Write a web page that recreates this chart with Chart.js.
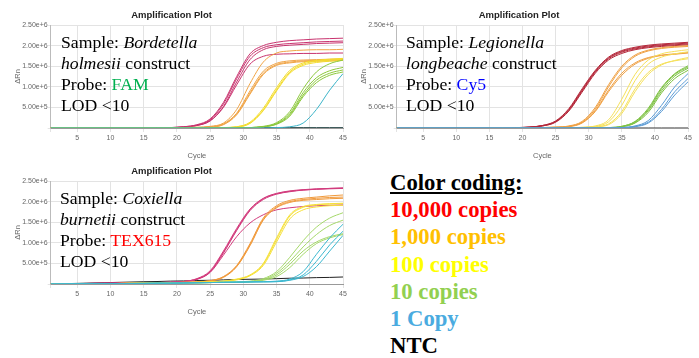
<!DOCTYPE html>
<html lang="en">
<head>
  <meta charset="UTF-8">
  <title>Amplification Plots</title>
  <script src="https://cdn.jsdelivr.net/npm/chart.js"></script>
  <style>
    body { margin: 0; width: 699px; height: 358px; position: relative; background: #fff; overflow: hidden; }
    canvas { position: absolute; }
    .note { position: absolute; font-family: 'Liberation Serif', serif; font-size: 17.7px; line-height: 21px; color: #000; white-space: nowrap; }
    .key { position: absolute; left: 390px; top: 169px; font-family: 'Liberation Serif', serif; font-weight: bold; font-size: 22.7px; line-height: 27.2px; white-space: nowrap; }
  </style>
</head>
<body>
  <canvas id="plotFam" width="350" height="165" style="left:0;top:0"></canvas>
  <canvas id="plotCy5" width="349" height="165" style="left:350px;top:0"></canvas>
  <canvas id="plotTex" width="350" height="165" style="left:0;top:156px"></canvas>

  <div class="note" style="left:61px;top:32px">
    Sample: <i>Bordetella</i><br><i>holmesii</i> construct<br>Probe: <span style="color:#00b050">FAM</span><br>LOD &lt;10
  </div>
  <div class="note" style="left:406px;top:32px">
    Sample: <i>Legionella</i><br><i>longbeache</i> construct<br>Probe: <span style="color:#0000ff">Cy5</span><br>LOD &lt;10
  </div>
  <div class="note" style="left:60px;top:188px">
    Sample: <i>Coxiella</i><br><i>burnetii</i> construct<br>Probe: <span style="color:#ff0000">TEX615</span><br>LOD &lt;10
  </div>

  <div class="key">
    <u>Color coding:</u><br>
    <span style="color:#ff0000">10,000 copies</span><br>
    <span style="color:#ffc000">1,000 copies</span><br>
    <span style="color:#ffff00">100 copies</span><br>
    <span style="color:#92d050">10 copies</span><br>
    <span style="color:#4aabe0">1 Copy</span><br>
    <span style="color:#000">NTC</span>
  </div>

  <script>
    const cycles = [1, 5, 10, 15, 17, 19, 21, 23, 25, 27, 29, 31, 33, 35, 37, 39, 41, 43, 45];
    // all ΔRn values below are in millions

    // Bordetella holmesii / FAM
    const famCopies10000 = [
      [0, 0, 0, 0, 0, 0.01, 0.03, 0.08, 0.22, 0.62, 1.25, 1.8, 2.0, 2.08, 2.12, 2.14, 2.16, 2.17, 2.18],
      [0, 0, 0, 0, 0, 0.01, 0.03, 0.07, 0.2, 0.58, 1.2, 1.74, 1.95, 2.02, 2.05, 2.07, 2.09, 2.1, 2.11],
      [0, 0, 0, 0, 0, 0.01, 0.02, 0.06, 0.18, 0.52, 1.12, 1.66, 1.9, 1.98, 2.01, 2.03, 2.05, 2.06, 2.07],
      [0, 0, 0, 0, 0, 0.01, 0.02, 0.06, 0.17, 0.5, 1.05, 1.55, 1.74, 1.79, 1.8, 1.81, 1.81, 1.82, 1.82]
    ];
    const famCopies1000 = [
      [0, 0, 0, 0, 0, 0, 0.01, 0.02, 0.04, 0.12, 0.45, 1.08, 1.6, 1.82, 1.87, 1.89, 1.9, 1.9, 1.91],
      [0, 0, 0, 0, 0, 0, 0, 0.01, 0.03, 0.1, 0.36, 0.9, 1.38, 1.57, 1.63, 1.65, 1.66, 1.67, 1.68],
      [0, 0, 0, 0, 0, 0, 0, 0.01, 0.02, 0.09, 0.34, 0.85, 1.33, 1.54, 1.6, 1.63, 1.64, 1.65, 1.66],
      [0, 0, 0, 0, 0, 0, 0, 0.01, 0.02, 0.08, 0.32, 0.82, 1.3, 1.52, 1.58, 1.61, 1.62, 1.63, 1.64]
    ];
    const famCopies100 = [
      [0, 0, 0, 0, 0, 0, 0, 0, 0, 0.01, 0.03, 0.14, 0.48, 0.98, 1.4, 1.58, 1.64, 1.67, 1.69],
      [0, 0, 0, 0, 0, 0, 0, 0, 0, 0.01, 0.03, 0.12, 0.44, 0.93, 1.36, 1.55, 1.62, 1.65, 1.67],
      [0, 0, 0, 0, 0, 0, 0, 0, 0, 0.01, 0.02, 0.11, 0.42, 0.9, 1.33, 1.52, 1.59, 1.62, 1.64]
    ];
    const famCopies10 = [
      [0, 0, 0, 0, 0, 0, 0, 0, 0, 0, 0, 0.01, 0.04, 0.13, 0.4, 0.95, 1.36, 1.56, 1.65],
      [0, 0, 0, 0, 0, 0, 0, 0, 0, 0, 0, 0.01, 0.03, 0.11, 0.35, 0.86, 1.22, 1.39, 1.47],
      [0, 0, 0, 0, 0, 0, 0, 0, 0, 0, 0, 0.01, 0.03, 0.1, 0.32, 0.8, 1.16, 1.33, 1.41],
      [0, 0, 0, 0, 0, 0, 0, 0, 0, 0, 0, 0.01, 0.03, 0.09, 0.29, 0.76, 1.1, 1.28, 1.36]
    ];
    const famCopies1 = [
      [0, 0, 0, 0, 0, 0, 0, 0, 0, 0, 0, 0, 0, 0.01, 0.03, 0.12, 0.45, 0.92, 1.32]
    ];
    const famNtc = [
      [0.01, 0.01, 0.01, 0.01, 0.01, 0.01, 0.01, 0.01, 0.01, 0.01, 0.01, 0.01, 0.01, 0.01, 0.01, 0.01, 0.01, 0.01, 0.01]
    ];

    // Legionella longbeache / Cy5
    const cy5Copies10000 = [
      [0, 0, 0, 0, 0, 0.01, 0.02, 0.06, 0.17, 0.47, 0.95, 1.4, 1.72, 1.88, 1.96, 2.01, 2.04, 2.06, 2.08],
      [0, 0, 0, 0, 0, 0.01, 0.02, 0.06, 0.16, 0.45, 0.92, 1.38, 1.7, 1.86, 1.94, 1.99, 2.02, 2.04, 2.06],
      [0, 0, 0, 0, 0, 0.01, 0.02, 0.05, 0.15, 0.43, 0.9, 1.36, 1.68, 1.84, 1.92, 1.97, 2.0, 2.02, 2.04],
      [0, 0, 0, 0, 0, 0, 0.02, 0.05, 0.14, 0.41, 0.87, 1.33, 1.65, 1.81, 1.9, 1.95, 1.98, 2.0, 2.02]
    ];
    const cy5Copies1000 = [
      [0, 0, 0, 0, 0, 0, 0, 0.01, 0.02, 0.05, 0.16, 0.5, 1.05, 1.5, 1.77, 1.89, 1.95, 1.98, 2.0],
      [0, 0, 0, 0, 0, 0, 0, 0.01, 0.02, 0.04, 0.14, 0.46, 1.0, 1.46, 1.74, 1.87, 1.93, 1.96, 1.98],
      [0, 0, 0, 0, 0, 0, 0, 0.01, 0.02, 0.04, 0.13, 0.42, 0.92, 1.33, 1.58, 1.71, 1.77, 1.8, 1.83],
      [0, 0, 0, 0, 0, 0, 0, 0, 0.01, 0.03, 0.12, 0.4, 0.88, 1.28, 1.55, 1.69, 1.76, 1.79, 1.82]
    ];
    const cy5Copies100 = [
      [0, 0, 0, 0, 0, 0, 0, 0, 0, 0, 0.02, 0.05, 0.2, 0.7, 1.3, 1.65, 1.8, 1.86, 1.9],
      [0, 0, 0, 0, 0, 0, 0, 0, 0, 0, 0.01, 0.04, 0.15, 0.55, 1.15, 1.55, 1.72, 1.8, 1.85],
      [0, 0, 0, 0, 0, 0, 0, 0, 0, 0, 0.01, 0.03, 0.1, 0.4, 0.95, 1.35, 1.55, 1.63, 1.68],
      [0, 0, 0, 0, 0, 0, 0, 0, 0, 0, 0.01, 0.03, 0.08, 0.35, 0.88, 1.3, 1.53, 1.64, 1.71]
    ];
    const cy5Copies10 = [
      [0, 0, 0, 0, 0, 0, 0, 0, 0, 0, 0, 0, 0.01, 0.04, 0.16, 0.48, 0.98, 1.32, 1.51],
      [0, 0, 0, 0, 0, 0, 0, 0, 0, 0, 0, 0, 0.01, 0.04, 0.15, 0.45, 0.95, 1.3, 1.48],
      [0, 0, 0, 0, 0, 0, 0, 0, 0, 0, 0, 0, 0, 0.03, 0.13, 0.42, 0.9, 1.26, 1.45],
      [0, 0, 0, 0, 0, 0, 0, 0, 0, 0, 0, 0, 0, 0.03, 0.12, 0.38, 0.85, 1.2, 1.4]
    ];
    const cy5Copies1 = [
      [0, 0, 0, 0, 0, 0, 0, 0, 0, 0, 0, 0, 0, 0.01, 0.05, 0.18, 0.55, 1.0, 1.32],
      [0, 0, 0, 0, 0, 0, 0, 0, 0, 0, 0, 0, 0, 0.01, 0.04, 0.14, 0.45, 0.88, 1.2],
      [0, 0, 0, 0, 0, 0, 0, 0, 0, 0, 0, 0, 0, 0, 0.03, 0.12, 0.4, 0.8, 1.12]
    ];
    const cy5Ntc = [
      [0, 0, 0, 0, 0, 0, 0, 0, 0, 0, 0, 0, 0, 0, 0, 0, 0, 0, 0]
    ];

    // Coxiella burnetii / TEX615
    const texCopies10000 = [
      [0, 0.01, 0.02, 0.03, 0.035, 0.04, 0.06, 0.13, 0.32, 0.8, 1.35, 1.82, 2.08, 2.2, 2.26, 2.29, 2.31, 2.32, 2.33],
      [0, 0.01, 0.02, 0.03, 0.035, 0.04, 0.06, 0.12, 0.3, 0.77, 1.32, 1.8, 2.07, 2.19, 2.25, 2.28, 2.3, 2.32, 2.33],
      [0, 0.01, 0.02, 0.03, 0.035, 0.04, 0.06, 0.12, 0.29, 0.75, 1.3, 1.78, 2.05, 2.18, 2.24, 2.28, 2.3, 2.31, 2.32],
      [0, 0.01, 0.02, 0.03, 0.035, 0.04, 0.06, 0.11, 0.28, 0.7, 1.15, 1.48, 1.68, 1.8, 1.85, 1.88, 1.9, 1.91, 1.92]
    ];
    const texCopies1000 = [
      [0, 0.005, 0.01, 0.02, 0.025, 0.03, 0.04, 0.05, 0.08, 0.18, 0.45, 0.98, 1.6, 1.9, 2.03, 2.08, 2.11, 2.14, 2.16],
      [0, 0.005, 0.01, 0.02, 0.025, 0.03, 0.04, 0.05, 0.08, 0.17, 0.43, 0.95, 1.57, 1.87, 2.0, 2.05, 2.08, 2.1, 2.11],
      [0, 0.005, 0.01, 0.02, 0.025, 0.03, 0.04, 0.05, 0.07, 0.16, 0.42, 0.93, 1.55, 1.85, 1.98, 2.03, 2.05, 2.07, 2.08]
    ];
    const texCopies100 = [
      [0, 0.005, 0.01, 0.02, 0.02, 0.025, 0.03, 0.04, 0.05, 0.07, 0.12, 0.22, 0.5, 1.12, 1.68, 1.88, 1.93, 1.95, 1.96],
      [0, 0.005, 0.01, 0.02, 0.02, 0.025, 0.03, 0.04, 0.05, 0.07, 0.11, 0.21, 0.48, 1.08, 1.65, 1.86, 1.92, 1.94, 1.95],
      [0, 0.005, 0.01, 0.02, 0.02, 0.025, 0.03, 0.04, 0.05, 0.06, 0.1, 0.2, 0.45, 1.02, 1.58, 1.8, 1.87, 1.9, 1.91]
    ];
    const texCopies10 = [
      [0, 0.005, 0.01, 0.015, 0.02, 0.02, 0.025, 0.03, 0.035, 0.04, 0.05, 0.07, 0.13, 0.3, 0.65, 1.05, 1.38, 1.6, 1.73],
      [0, 0.005, 0.01, 0.015, 0.02, 0.02, 0.025, 0.03, 0.035, 0.04, 0.045, 0.06, 0.11, 0.26, 0.55, 0.9, 1.2, 1.42, 1.55],
      [0, 0.005, 0.01, 0.015, 0.02, 0.02, 0.025, 0.03, 0.035, 0.04, 0.04, 0.06, 0.1, 0.22, 0.48, 0.8, 1.02, 1.15, 1.22],
      [0, 0.005, 0.01, 0.015, 0.02, 0.02, 0.025, 0.03, 0.035, 0.04, 0.04, 0.05, 0.09, 0.18, 0.4, 0.72, 0.98, 1.12, 1.2]
    ];
    const texCopies1 = [
      [0, 0.005, 0.01, 0.015, 0.02, 0.02, 0.025, 0.03, 0.035, 0.04, 0.045, 0.05, 0.055, 0.07, 0.12, 0.3, 0.72, 1.12, 1.45],
      [0, 0.005, 0.01, 0.015, 0.02, 0.02, 0.025, 0.03, 0.035, 0.04, 0.045, 0.05, 0.055, 0.06, 0.1, 0.22, 0.55, 0.95, 1.28],
      [0, 0.005, 0.01, 0.015, 0.02, 0.02, 0.025, 0.03, 0.035, 0.04, 0.045, 0.05, 0.05, 0.055, 0.09, 0.18, 0.42, 0.8, 1.18]
    ];
    const texNtc = [
      [0, 0.015, 0.035, 0.055, 0.06, 0.07, 0.075, 0.085, 0.09, 0.1, 0.11, 0.115, 0.12, 0.13, 0.14, 0.145, 0.155, 0.16, 0.17]
    ];

    function buildPlot(canvasId, groups, axisWidth, rightPad) {
      const datasets = [];
      groups.forEach(([curves, color]) => {
        curves.forEach(curve => {
          datasets.push({
            data: cycles.map((c, i) => ({ x: c, y: curve[i] * 1e6 })),
            borderColor: color,
            borderWidth: 1,
            pointRadius: 0,
            cubicInterpolationMode: 'monotone',
            fill: false
          });
        });
      });

      const tickFont = { family: 'Liberation Sans', size: 7 };
      return new Chart(document.getElementById(canvasId), {
        type: 'line',
        data: { datasets },
        options: {
          responsive: false,
          animation: false,
          devicePixelRatio: 1,
          layout: { padding: { top: 10, right: rightPad, left: 0, bottom: 0 } },
          plugins: {
            legend: { display: false },
            tooltip: { enabled: false },
            title: {
              display: true,
              text: 'Amplification Plot',
              color: '#222',
              font: { family: 'Liberation Sans', size: 9.5, weight: 'bold' },
              padding: { top: 0, bottom: 3.6 }
            }
          },
          scales: {
            x: {
              type: 'linear',
              min: 1,
              max: 45,
              afterFit: s => { s.height = 37; },
              border: { color: '#999' },
              grid: { color: '#e3e3e3', tickLength: 4 },
              ticks: {
                stepSize: 5,
                padding: 1.5,
                color: '#666',
                font: tickFont,
                maxRotation: 0,
                callback: v => (v % 5 === 0 ? String(v) : '')
              },
              title: {
                display: true,
                text: 'Cycle',
                color: '#666',
                font: { family: 'Liberation Sans', size: 7.5 },
                padding: { top: 0, bottom: 4.5 }
              }
            },
            y: {
              min: 0,
              max: 2.5e6,
              afterFit: s => { s.width = axisWidth; },
              border: { color: '#bbb' },
              grid: { color: '#e3e3e3', tickLength: 3 },
              ticks: {
                stepSize: 5e5,
                padding: 0,
                color: '#666',
                font: tickFont,
                callback: v => (v === 0 ? '' : v.toExponential(2))
              },
              title: {
                display: true,
                text: 'ΔRn',
                color: '#666',
                font: { family: 'Liberation Sans', size: 7.5 },
                padding: { top: axisWidth - 37, bottom: 0 }
              }
            }
          }
        }
      });
    }

    buildPlot('plotFam', [
      [famCopies1, '#3cb4c8'],
      [famCopies10, '#8cc83c'],
      [famCopies100, '#f3dc2c'],
      [famCopies1000, '#f0a446'],
      [famCopies10000, '#c8336e'],
      [famNtc, '#2f4f4f']
    ], 50.7, 7);

    buildPlot('plotCy5', [
      [cy5Copies1, '#5b9bd5'],
      [cy5Copies10, '#7dc142'],
      [cy5Copies100, '#f5e05a'],
      [cy5Copies1000, '#efa043'],
      [cy5Copies10000, '#b4283a'],
      [cy5Ntc, '#333']
    ], 46.7, 11);

    buildPlot('plotTex', [
      [texCopies1, '#3cb8d0'],
      [texCopies10, '#a5d86a'],
      [texCopies100, '#f5e03a'],
      [texCopies1000, '#f09a3c'],
      [texCopies10000, '#d23c7d'],
      [texNtc, '#222']
    ], 50.7, 7);
  </script>
</body>
</html>
